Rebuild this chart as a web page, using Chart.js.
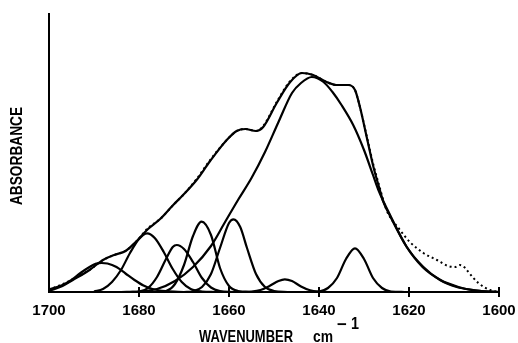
<!DOCTYPE html>
<html>
<head>
<meta charset="utf-8">
<script src="https://cdn.jsdelivr.net/npm/chart.js@4.4.1/dist/chart.umd.min.js"></script>
<style>
  html, body { margin: 0; padding: 0; background: #fff; }
</style>
</head>
<body>
<canvas id="amide1" width="518" height="343"></canvas>
<script>
// Amide I band: measured spectrum (dotted), fitted sum and the component bands
// x = wavenumber (cm-1), y = absorbance (arbitrary units)
const wnTicks = [1700, 1680, 1660, 1640, 1620, 1600];

const measured = [[1700, 2], [1698, 6], [1696.4, 9], [1694.7, 13], [1691, 22], [1688, 32], [1685.5, 37], [1683, 41],
    [1680.5, 51], [1678, 64], [1675.3, 73], [1672.4, 87], [1670.2, 97], [1667.2, 113], [1664.2, 132], [1660.5, 152],
    [1658.3, 161], [1656.4, 163], [1654, 161], [1652.4, 166], [1649.4, 190], [1646.4, 211], [1643.8, 219], [1641.3, 217],
    [1638.3, 210], [1636.1, 207], [1633.5, 207], [1632, 202], [1630.9, 185], [1629.4, 156], [1627.9, 127], [1626.6, 106],
    [1625, 82], [1622, 62], [1619.8, 50], [1616.8, 39], [1613.8, 32], [1611.3, 26], [1609.8, 25], [1608.7, 27],
    [1607.5, 24], [1606.8, 20], [1604.6, 9], [1602, 2], [1600, 0]];

const fitSum = [[1700, 1], [1697, 6], [1694.7, 12], [1691, 22], [1688, 32], [1685.5, 37], [1683, 41], [1680.5, 51],
    [1678, 63], [1675.3, 73], [1672.4, 87], [1670.2, 97], [1667.2, 112], [1664.2, 131], [1660.5, 152], [1658.3, 161],
    [1656.4, 163], [1654, 161], [1652.4, 165], [1649.4, 189], [1646.4, 210], [1643.8, 219], [1641.3, 217], [1638.3, 210],
    [1636.1, 207], [1633.5, 207], [1632, 202], [1630.9, 185], [1629.4, 155], [1627.9, 125], [1626.6, 104], [1625.7, 90],
    [1624.2, 76], [1620.5, 45], [1616.8, 25], [1613.1, 12], [1609.4, 5], [1605.7, 2], [1602, 0.3], [1600, 0]];

const band1688 = [[1700, 2.5], [1697, 7], [1695, 12], [1693, 19], [1691, 25], [1689.5, 28.5], [1688.3, 29], [1687, 28.5],
    [1685, 25], [1683, 18.5], [1681, 12], [1679, 6.5], [1677, 3], [1674, 0.8], [1670, 0]];
const band1678 = [[1690, 0.5], [1688, 3], [1686, 10], [1684, 22], [1682, 39], [1680, 53], [1678.2, 58.7], [1676.5, 54],
    [1674.5, 40], [1672.5, 23], [1670.5, 10], [1668.5, 3], [1666, 0.5], [1663, 0]];
const band1672 = [[1682, 0], [1680, 0.5], [1678, 4], [1676, 15], [1674, 33], [1672.5, 45], [1671.6, 47], [1670, 43],
    [1668, 30], [1666, 14], [1664, 4.5], [1662, 1], [1659, 0]];
const band1666 = [[1676, 0], [1674, 1], [1672, 8], [1670, 27], [1668, 56], [1666.1, 70.3], [1664, 57], [1662, 24],
    [1660, 6], [1658, 1], [1655, 0]];
const band1659 = [[1670, 0], [1668, 0.8], [1666, 5], [1664, 18], [1662, 44], [1660, 69], [1659, 72.7], [1657.5, 65],
    [1656, 44], [1654, 18], [1652, 5], [1650, 1], [1647, 0]];
const band1647 = [[1657, 0], [1655, 0.4], [1653, 2], [1651, 6], [1649, 11], [1647.6, 12.7], [1646, 11], [1644, 5.5],
    [1642, 1.7], [1640, 0.3], [1638, 0]];
const band1642 = [[1684, 0], [1680, 0.5], [1676, 3], [1672, 11], [1668, 25], [1664, 46], [1661, 69], [1658, 92],
    [1655, 114], [1652, 140], [1649, 170], [1646, 199], [1644, 209], [1641.6, 215], [1639, 210], [1637, 200],
    [1635, 187], [1632.4, 167], [1630, 142], [1628, 117], [1626.8, 102], [1624, 75], [1620.5, 45], [1617, 25],
    [1613, 12], [1609, 5], [1606, 2], [1602, 0.3], [1600, 0]];
const band1632 = [[1642, 0], [1640, 0.5], [1638, 4], [1636, 14], [1634, 33], [1632, 43.7], [1630, 33], [1628, 14],
    [1626, 4], [1624, 0.5], [1621, 0]];

const toPoints = arr => arr.map(p => ({ x: p[0], y: p[1] }));

const solid = data => ({
    data: toPoints(data),
    borderColor: '#000',
    borderWidth: 2.2,
    pointRadius: 0,
    cubicInterpolationMode: 'monotone',
    fill: false
});

const components = [band1688, band1678, band1672, band1666, band1659, band1647, band1642, band1632];

// axis tick marks (crossing the axis) and the two axis titles
const axisDecor = {
    id: 'axisDecor',
    afterDraw(chart) {
        const { ctx, chartArea, scales: { x } } = chart;
        ctx.save();
        ctx.strokeStyle = '#000';
        ctx.lineWidth = 2;
        wnTicks.slice(1).forEach(v => {
            const px = x.getPixelForValue(v);
            ctx.beginPath();
            ctx.moveTo(px, chartArea.bottom - 5);
            ctx.lineTo(px, chartArea.bottom + 5);
            ctx.stroke();
        });
        ctx.fillStyle = '#000';
        ctx.font = 'bold 17px "Liberation Sans", Arial, sans-serif';
        ctx.textBaseline = 'alphabetic';
        ctx.textAlign = 'left';
        ctx.fillText('WAVENUMBER', 199, 341.5, 94);
        ctx.fillText('cm', 313, 341.5, 20);
        ctx.fillText('\u2212', 337, 330, 13);
        ctx.fillText('1', 351, 328.5, 8);

        ctx.translate(21.5, 156);
        ctx.rotate(-Math.PI / 2);
        ctx.textAlign = 'center';
        ctx.fillText('ABSORBANCE', 0, 0, 98);
        ctx.restore();
    }
};

const chart = new Chart(document.getElementById('amide1'), {
    type: 'line',
    data: {
        datasets: [
            Object.assign(solid(measured), { borderDash: [2, 3], borderWidth: 2 }),
            solid(fitSum)
        ].concat(components.map(solid))
    },
    options: {
        responsive: false,
        animation: false,
        layout: { padding: { top: 14, right: 19, left: 0, bottom: 0 } },
        plugins: {
            legend: { display: false },
            tooltip: { enabled: false }
        },
        scales: {
            x: {
                type: 'linear',
                reverse: true,
                min: 1600,
                max: 1700,
                afterFit: s => { s.height = 51; s.paddingLeft = 0; s.paddingRight = 0; },
                afterBuildTicks: s => { s.ticks = wnTicks.map(v => ({ value: v })); },
                grid: { display: false, drawTicks: false },
                border: { display: true, color: '#000', width: 2 },
                ticks: {
                    color: '#000',
                    padding: 10,
                    maxRotation: 0,
                    callback: v => String(v),
                    font: { family: '"Liberation Sans", Arial, sans-serif', size: 15, weight: 'bold' }
                }
            },
            y: {
                min: 0,
                max: 278,
                afterFit: s => { s.width = 49; },
                grid: { display: false, drawTicks: false },
                border: { display: true, color: '#000', width: 2 },
                ticks: { display: false }
            }
        }
    },
    plugins: [axisDecor]
});
</script>
</body>
</html>
